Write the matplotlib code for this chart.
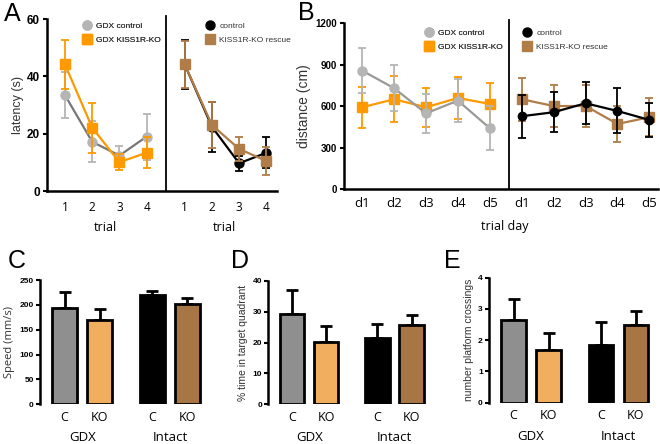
import numpy as np
import matplotlib.pyplot as plt
from matplotlib.lines import Line2D

plt.rcParams['font.family'] = ['Liberation Sans', 'DejaVu Sans']
NARROW = ['Liberation Sans Narrow', 'Liberation Sans', 'DejaVu Sans']

W, H = 660, 444

# ---- panel A: latency per trial ----
trial_labels = ["1", "2", "3", "4"]
a_gdx_ctrl = [33.5, 17.3, 12.5, 19.1]
a_gdx_ctrl_err = [8.0, 7.2, 3.2, 8.0]
a_gdx_ko = [44.2, 22.2, 10.2, 13.5]
a_gdx_ko_err = [8.5, 8.7, 2.7, 5.5]
a_ctrl = [44.2, 22.5, 9.8, 13.5]
a_ctrl_err = [8.5, 8.7, 2.7, 5.5]
a_rescue = [44.2, 23.1, 14.8, 10.6]
a_rescue_err = [8.2, 8.0, 4.3, 5.0]

# ---- panel B: distance per trial day ----
day_labels = ["d1", "d2", "d3", "d4", "d5"]
b_gdx_ctrl = [857, 730, 548, 640, 440]
b_gdx_ctrl_err = [165, 165, 143, 155, 160]
b_gdx_ko = [592, 650, 592, 659, 616]
b_gdx_ko_err = [148, 165, 143, 150, 155]
b_ctrl = [527, 556, 621, 565, 500]
b_ctrl_err = [155, 145, 153, 163, 125]
b_rescue = [650, 601, 601, 471, 520]
b_rescue_err = [155, 150, 150, 132, 138]

# ---- panels C-E: probe trial bars (GDX C, GDX KO, Intact C, Intact KO) ----
bar_labels = ["C", "KO", "C", "KO"]
group_labels = ["GDX", "Intact"]
c_speed = [194, 169, 219.5, 201]
c_speed_err = [32, 22, 8, 13]
d_time = [29.1, 20.3, 21.6, 25.7]
d_time_err = [7.9, 5.0, 4.3, 3.2]
e_cross = [2.65, 1.69, 1.85, 2.49]
e_cross_err = [0.67, 0.53, 0.74, 0.44]

GRAY_M = "#b5b5b5"
GRAY_L = "#777777"
ORANGE = "#ff9900"
BROWN = "#b07d48"
BAR_COLORS = ["#8f8f8f", "#f2ae5f", "#000000", "#a87545"]


def px_axes(x0, y0, x1, y1):
    return fig.add_axes([x0 / W, 1 - y1 / H, (x1 - x0) / W, (y1 - y0) / H])


def line_series(ax, x, y, e, mcol, lcol, marker, ms, z):
    ax.errorbar(x, y, yerr=e, color=lcol, ecolor=mcol, lw=1.6, elinewidth=1.3,
                capsize=3, capthick=1.3, marker=marker, ms=ms, mfc=mcol, mec=mcol,
                zorder=z, clip_on=False)


def legend(x, y, entries, fs):
    handles = [Line2D([], [], ls="none", marker=m, ms=ms, mfc=c, mec=c, label=l)
               for l, c, m, ms in entries]
    leg = fig.legend(handles=handles, loc="upper left", bbox_to_anchor=(x / W, 1 - y / H),
                     frameon=False, prop={"family": NARROW, "size": fs},
                     handlelength=1.2, handletextpad=0.5,
                     borderpad=0, borderaxespad=0, labelspacing=0.75)
    for t in leg.get_texts():
        t.set_color("#333333")
    return leg


fig = plt.figure(figsize=(W / 100, H / 100), dpi=100)

# ================= A =================
axA = px_axes(47, 19, 277, 191.5)
xl = np.arange(1, 5)
xr = xl + 4.4
line_series(axA, xl, a_gdx_ctrl, a_gdx_ctrl_err, GRAY_M, GRAY_L, "o", 6.5, 3)
line_series(axA, xl, a_gdx_ko, a_gdx_ko_err, ORANGE, ORANGE, "s", 7, 4)
line_series(axA, xr, a_ctrl, a_ctrl_err, "black", "black", "o", 6.5, 3)
line_series(axA, xr, a_rescue, a_rescue_err, BROWN, BROWN, "s", 7, 4)
axA.axvline(4.71, color="black", lw=1.3, ymax=1.02, clip_on=False)
axA.set_xlim(0.34, 8.79)
axA.set_ylim(0, 60)
axA.set_yticks([0, 20, 40, 60])
axA.set_xticks(np.concatenate([xl, xr]))
axA.set_xticklabels(trial_labels + trial_labels, family="Open Sans", fontsize=8.5)
axA.tick_params(axis="x", length=0, pad=7)
axA.tick_params(axis="y", length=3, width=1.5, pad=2, labelsize=8.5)
for t in axA.get_yticklabels():
    t.set_fontweight("bold")
axA.set_ylabel("latency (s)", fontsize=9, color="#333333", labelpad=2)
for s in ["top", "right"]:
    axA.spines[s].set_visible(False)
for s in ["left", "bottom"]:
    axA.spines[s].set_linewidth(1.8)
fig.text(105 / W, 1 - 227 / H, "trial", family="Open Sans", fontsize=9, ha="center", va="center")
fig.text(224 / W, 1 - 227 / H, "trial", family="Open Sans", fontsize=9, ha="center", va="center")
l1 = legend(82, 22, [("GDX control", GRAY_M, "o", 6.5), ("GDX KISS1R-KO", ORANGE, "s", 7.5)], 6)
fig.add_artist(l1)
legend(205, 22, [("control", "black", "o", 6.5), ("KISS1R-KO rescue", BROWN, "s", 7.5)], 6)

# ================= B =================
axB = px_axes(344, 23.3, 658, 189)
dl = np.arange(1, 6)
dr = dl + 5
line_series(axB, dl, b_gdx_ctrl, b_gdx_ctrl_err, GRAY_M, "#999999", "o", 6.5, 3)
line_series(axB, dl, b_gdx_ko, b_gdx_ko_err, ORANGE, ORANGE, "s", 6.5, 2)
line_series(axB, dr, b_rescue, b_rescue_err, BROWN, BROWN, "s", 6.5, 2)
line_series(axB, dr, b_ctrl, b_ctrl_err, "black", "black", "o", 6, 3)
axB.axvline(5.61, color="black", lw=1.3, ymax=1.02, clip_on=False)
axB.set_xlim(0.43, 10.27)
axB.set_ylim(0, 1200)
axB.set_yticks([0, 300, 600, 900, 1200])
axB.set_xticks(np.concatenate([dl, dr]))
axB.set_xticklabels(day_labels + day_labels, family="Open Sans", fontsize=9.5)
axB.tick_params(axis="x", length=0, pad=6)
axB.tick_params(axis="y", length=3, width=1.5, pad=2, labelsize=7)
for t in axB.get_yticklabels():
    t.set_fontweight("bold")
    t.set_family(NARROW)
axB.set_ylabel("distance (cm)", fontsize=10, color="#333333", labelpad=3)
for s in ["top", "right"]:
    axB.spines[s].set_visible(False)
for s in ["left", "bottom"]:
    axB.spines[s].set_linewidth(1.8)
fig.text(505 / W, 1 - 226 / H, "trial day", family="Open Sans", fontsize=9, ha="center", va="center")
l2 = legend(424, 29, [("GDX control", GRAY_M, "o", 6.5), ("GDX KISS1R-KO", ORANGE, "s", 7.5)], 6)
fig.add_artist(l2)
legend(522, 29, [("control", "black", "o", 6.5), ("KISS1R-KO rescue", BROWN, "s", 7.5)], 6)


# ================= C, D, E =================
bar_x = np.array([0, 1, 2.5, 3.5])


def bar_panel(box, vals, errs, ymax, step, ylabel, yl_fs, yl_family):
    ax = px_axes(*box)
    ax.bar(bar_x, vals, width=0.71, color=BAR_COLORS, edgecolor="black", linewidth=2, zorder=2)
    ax.errorbar(bar_x, vals, yerr=[np.zeros(4), errs], fmt="none", ecolor="black",
                elinewidth=2, capsize=4.5, capthick=2, zorder=1)
    ax.set_xlim(-0.7, 4.0)
    ax.set_ylim(0, ymax)
    ax.set_yticks(np.arange(0, ymax + step / 2, step))
    ax.tick_params(axis="y", length=3, width=1.5, pad=1.5, labelsize=6)
    for t in ax.get_yticklabels():
        t.set_fontweight("bold")
    ax.set_xticks(bar_x)
    ax.set_xticklabels(bar_labels, family="Open Sans", fontsize=9)
    ax.tick_params(axis="x", length=0, pad=4.5)
    for s in ["top", "right", "bottom"]:
        ax.spines[s].set_visible(False)
    ax.spines["left"].set_linewidth(1.8)
    ax.set_ylabel(ylabel, fontsize=yl_fs, family=yl_family, color="#333333", labelpad=3)
    for gx, g in zip([0.5, 3.0], group_labels):
        ax.text(gx, -0.27, g, transform=ax.get_xaxis_transform(), ha="center", va="center",
                family="Open Sans", fontsize=9.5)
    return ax


bar_panel((40, 280, 205, 404.3), c_speed, c_speed_err, 250, 50, "Speed (mm/s)", 8, "Open Sans")
bar_panel((268.3, 280.7, 428.6, 404.3), d_time, d_time_err, 40, 10,
          "% time in target quadrant", 7.5, NARROW)
bar_panel((489, 277.7, 653.5, 402.7), e_cross, e_cross_err, 4, 1,
          "number platform crossings", 7.5, NARROW)

for x, y, s in [(4, 2, "A"), (298, 1, "B"), (8, 249, "C"), (231, 249, "D"), (444, 249, "E")]:
    fig.text(x / W, 1 - y / H, s, fontsize=18, ha="left", va="top")

fig.savefig("out.png", dpi=100, facecolor="white")
